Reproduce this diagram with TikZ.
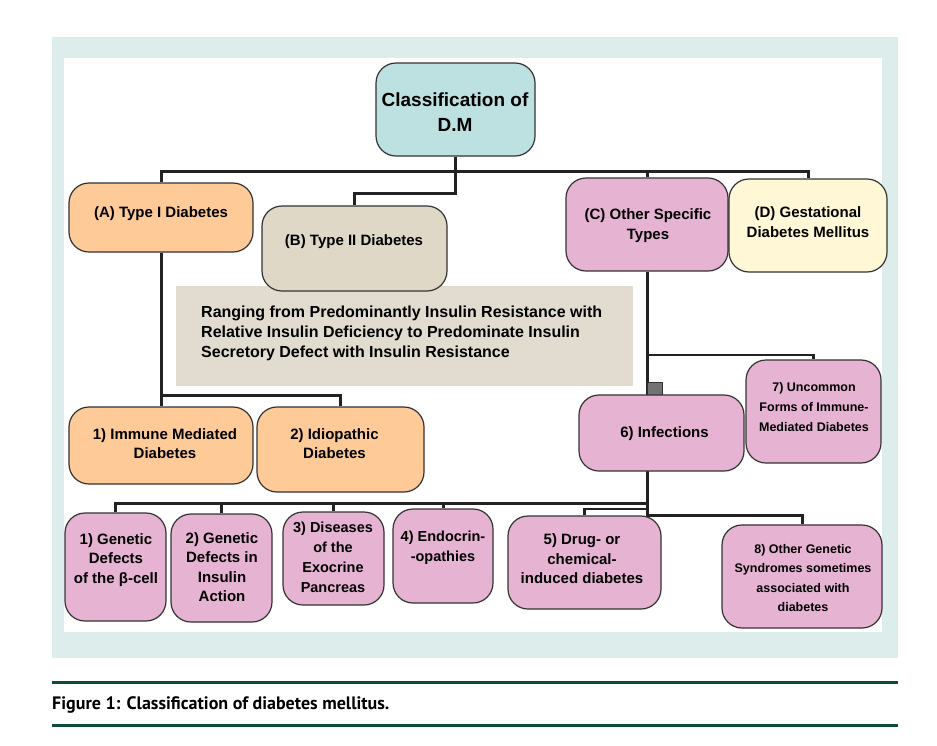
\documentclass[tikz,border=0pt]{standalone}
\usepackage{fontspec}
\setmainfont{Liberation Sans}
\newfontfamily\capfont{PT Sans}
\usetikzlibrary{fit}
\definecolor{panel}{HTML}{DCEDEB}
\definecolor{rootc}{HTML}{BDE0E0}
\definecolor{peach}{HTML}{FDCA98}
\definecolor{beige}{HTML}{DFD8C7}
\definecolor{greyb}{HTML}{E2DCD0}
\definecolor{pink}{HTML}{E6B3D2}
\definecolor{yell}{HTML}{FFF7D5}
\definecolor{capg}{HTML}{0E4B3C}
\definecolor{linec}{HTML}{222222}
\definecolor{bord}{HTML}{333333}
\pgfdeclarelayer{back}
\pgfdeclarelayer{conns}
\pgfsetlayers{back,conns,main}
\newcommand\mkbox[6]{\node[box, fill=#2, fit={(#3,#4) (#5,#6)}] (#1) {};}
\begin{document}
\begin{tikzpicture}[x=1pt,y=-1pt,
  box/.style={draw=bord, line width=1.2pt, rounded corners=20pt, inner sep=0pt},
  lbl/.style={align=center, font=\bfseries\fontsize{15}{19.5}\selectfont, inner sep=0pt, text=black},
  small/.style={align=center, font=\bfseries\fontsize{12.5}{20}\selectfont, inner sep=0pt, text=black},
  conn/.style={line width=3pt, draw=linec},
  rule/.style={line width=3pt, draw=capg}]
\useasboundingbox (0,0) rectangle (937,745);
\begin{pgfonlayer}{back}
\fill[white] (0,0) rectangle (937,745);
\fill[panel] (52,37) rectangle (898,658);
\fill[white] (64,58) rectangle (882,632);
\end{pgfonlayer}
% boxes
\mkbox{root}{rootc}{376}{63}{535}{156}
\mkbox{A}{peach}{69}{183}{253}{252}
\node[fill=greyb, inner sep=0pt, fit={(176,286) (633,386)}] (grey) {};
\mkbox{B}{beige}{262}{206}{447}{291}
\mkbox{C}{pink}{566}{178}{728}{271}
\mkbox{D}{yell}{729}{179}{887}{272}
\mkbox{Im}{peach}{69}{407}{253}{484}
\mkbox{Id}{peach}{257}{407}{424}{492}
\node[draw=bord, fill=black!55, line width=0.8pt, minimum width=15pt, minimum height=13pt, inner sep=0pt] (sq) at (654.5,389) {};
\mkbox{Inf}{pink}{579}{395}{744}{471}
\mkbox{U}{pink}{746}{360}{881}{463}
\mkbox{G1}{pink}{65}{513}{166}{621}
\mkbox{G2}{pink}{171}{514}{272}{622}
\mkbox{G3}{pink}{283}{512}{384}{605}
\mkbox{G4}{pink}{393}{509}{493}{603}
\mkbox{G5}{pink}{508}{516}{661}{609}
\mkbox{G8}{pink}{722}{525}{882}{628}
% labels
\node[lbl, font=\bfseries\fontsize{19}{25}\selectfont] (roott) at (455,112) {Classification of\\D.M};
\node[lbl] (At) at (161,214) {(A) Type I Diabetes};
\node[lbl] (Bt) at (354,242) {(B) Type II Diabetes};
\node[lbl] (Ct) at (648,225.5) {(C) Other Specific\\Types};
\node[lbl] (Dt) at (808,222) {(D) Gestational\\Diabetes Mellitus};
\node[lbl, align=left, anchor=west, font=\bfseries\fontsize{16}{20}\selectfont] (greyt) at (201,333) {Ranging from Predominantly Insulin Resistance with\\Relative Insulin Deficiency to Predominate Insulin\\Secretory Defect with Insulin Resistance};
\node[lbl] (Imt) at (165,443.5) {1) Immune Mediated\\Diabetes};
\node[lbl] (Idt) at (334.5,443.5) {2) Idiopathic\\Diabetes};
\node[lbl] (Inft) at (664.5,434) {6) Infections};
\node[small] (Ut) at (814,407) {7) Uncommon\\Forms of Immune-\\Mediated Diabetes};
\node[lbl] (G1t) at (116,560) {1) Genetic\\Defects\\of the β-cell};
\node[lbl] (G2t) at (222,567) {2) Genetic\\Defects in\\Insulin\\Action};
\node[lbl, font=\bfseries\fontsize{14.5}{20}\selectfont] (G3t) at (333,557) {3) Diseases\\of the\\Exocrine\\Pancreas};
\node[lbl, font=\bfseries\fontsize{14.5}{20}\selectfont] (G4t) at (443,547.5) {4) Endocrin-\\-opathies};
\node[lbl] (G5t) at (582,559) {5) Drug- or\\chemical-\\induced diabetes};
\node[small, font=\bfseries\fontsize{12.5}{19.3}\selectfont] (G8t) at (803,578) {8) Other Genetic\\Syndromes sometimes\\associated with\\diabetes};
% connectors
\begin{pgfonlayer}{conns}
\coordinate (jr) at (455.5,171);
\coordinate (jr2) at (455.5,193);
\coordinate (ja) at (161,395);
\coordinate (jU) at (647,355);
\coordinate (jb) at (647,503);
\coordinate (j5) at (647,509);
\coordinate (j8) at (647,515);
\draw[conn] (root.south) -- (jr2) -| (B.north);
\draw[conn] (A.north) |- (jr) -| (D.north);
\draw[conn] (C.north) -- (C.north |- jr);
\draw[conn] (A.south) -- (Im.north);
\draw[conn] (Im.north |- ja) -| (Id.north);
\draw[conn] (C.south) -- (j8) -| (G8.north);
\draw[conn, line width=2.4pt] (jU) -| (U.north);
\draw[conn] (G1.north) |- (jb);
\draw[conn] (G2.north) -- (G2.north |- jb);
\draw[conn] (G3.north) -- (G3.north |- jb);
\draw[conn] (G4.north) -- (G4.north |- jb);
\draw[conn, line width=2.4pt] (G5.north) |- (j5);
\end{pgfonlayer}
% caption
\draw[rule] (52,682) coordinate (r1a) -- (898,682) coordinate (r1b);
\draw[rule] (52,725) coordinate (r2a) -- (898,725) coordinate (r2b);
\node[anchor=west, inner sep=0pt, font=\capfont\bfseries\fontsize{18}{22}\selectfont] (cap) at (52,705) {Figure 1: Classification of diabetes mellitus.};
\end{tikzpicture}
\end{document}
